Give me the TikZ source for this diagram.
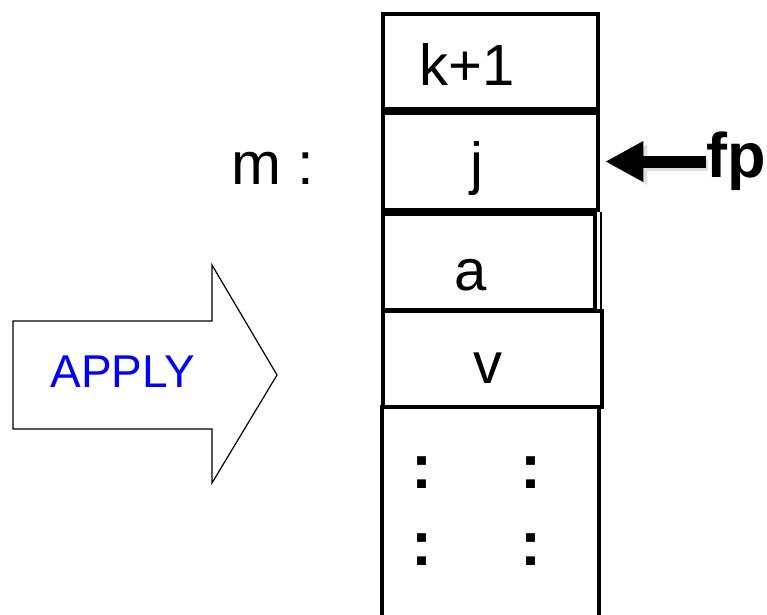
\documentclass[tikz,border=0pt]{standalone}
\usepackage{fontspec}
\setmainfont{Liberation Sans}
\usetikzlibrary{arrows.meta}
\begin{document}
\begin{tikzpicture}[x=1pt,y=-1pt,
  cell/.style={draw, line width=4.5pt, rectangle, inner sep=0pt},
  celltext/.style={anchor=base, inner sep=0pt, font=\fontsize{58}{64}\selectfont},
  dots/.style={anchor=base, inner sep=0pt, font=\fontsize{63}{70}\selectfont\bfseries},
  fparrow/.style={line width=12pt, -{Triangle[length=38pt,width=38pt]}},
  bigarrow/.style={draw, line width=1.2pt, line join=miter, fill=white}]
\useasboundingbox (0,0) rectangle (767,614);
\clip (0,0) rectangle (767,614);

% stack cells
\node[cell, minimum width=215pt, minimum height=95pt] (kbox) at (490.5,61.5) {};
\node[cell, minimum width=215pt, minimum height=97pt] (jbox) at (490.5,161.5) {};
\node[cell, minimum width=212pt, minimum height=96pt] (abox) at (489,262) {};
\draw[line width=1.5pt] (601,212) -- (601,310);
\node[cell, minimum width=219pt, minimum height=96pt] (vbox) at (492.5,359) {};
\node[cell, minimum width=217pt, minimum height=240pt] (restbox) at (490.5,527) {};

% cell contents
\node[celltext] (ktext) at (467,85) {k+1};
\node[celltext] (jtext) at (477,183) {j};
\node[celltext] (atext) at (471,290) {a};
\node[celltext] (vtext) at (488,383) {v};
\node[dots] (d1) at (422,488) {:};
\node[dots] (d2) at (531,488) {:};
\node[dots] (d3) at (422,565) {:};
\node[dots] (d4) at (531,565) {:};

% address label
\node[anchor=base west, inner sep=0pt, font=\fontsize{60}{66}\selectfont] (mlabel) at (231,184) {m :};

% frame pointer
\node[anchor=base west, inner sep=0pt, font=\fontsize{63}{70}\selectfont\bfseries] (fp) at (706,177) {fp};
\draw[fparrow, gray!25, shorten >=7pt] ([shift={(2,3)}]fp.west |- jbox.east) -- ([shift={(2,3)}]jbox.east);
\draw[fparrow, shorten >=5pt] (fp.west |- jbox.east) -- (jbox.east);

% APPLY block arrow
\draw[bigarrow] (13,321) coordinate (a1) -- (212,321) -- (212,265) -- (277,375) coordinate (atip)
  -- (212,483) -- (212,429) -- (13,429) -- cycle;
\node[anchor=base, inner sep=0pt, text=blue, font=\fontsize{46}{52}\selectfont] (apply) at (123,387) {APPLY};
\end{tikzpicture}
\end{document}
